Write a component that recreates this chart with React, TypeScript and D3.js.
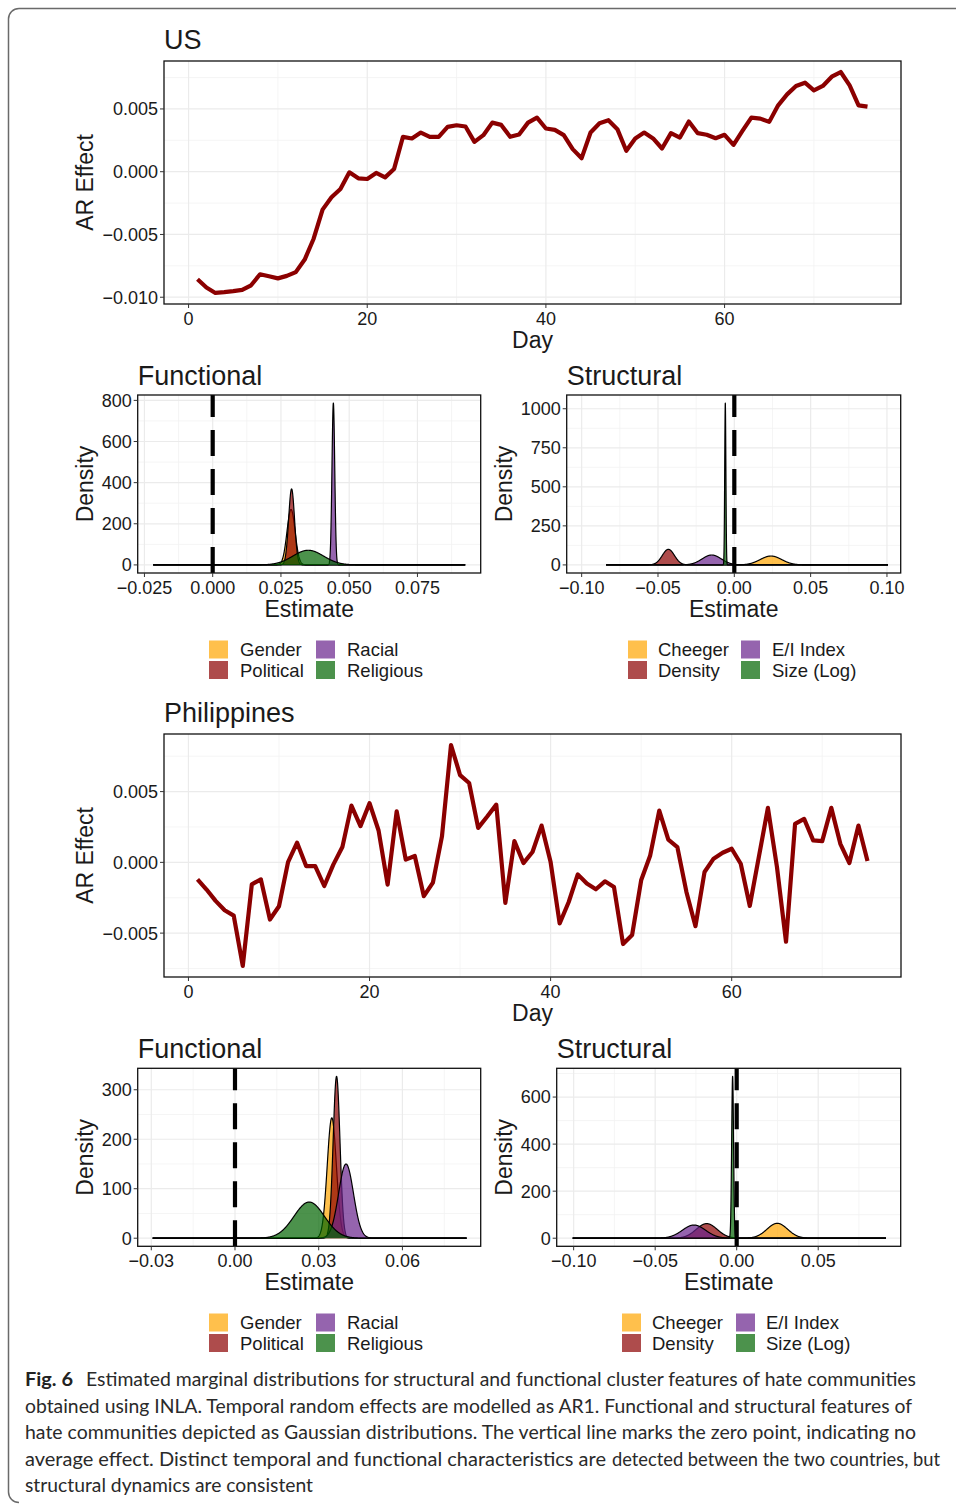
import React from 'react';
import * as d3 from 'd3';

const FONT = '"Liberation Sans", Arial, Helvetica, sans-serif';
const CAP_FONT = 'Lato, "Noto Sans", sans-serif';
const TXT = '#1a1a1a';
const GRID_MAJOR = '#EBEBEB';
const GRID_MINOR = '#F2F2F2';
const LINE_COLOR = '#8B0000';

// ---------- AR(1) temporal effects ----------
const usAR = [
  -0.00857, -0.00923, -0.00966, -0.0096, -0.00952, -0.00942, -0.00905, -0.00817, -0.00833, -0.0085,
  -0.0083, -0.008, -0.007, -0.00534, -0.00302, -0.00204, -0.00138, -0.00005, -0.00053, -0.00058,
  -0.0001, -0.00045, 0.00021, 0.00278, 0.00265, 0.00312, 0.00278, 0.00278, 0.00357, 0.0037,
  0.0036, 0.00238, 0.00291, 0.00391, 0.00373, 0.00278, 0.00296, 0.00391, 0.00431, 0.00344,
  0.00333, 0.00291, 0.0018, 0.00108, 0.00312, 0.00386, 0.0041, 0.00339, 0.00167, 0.00265,
  0.00312, 0.00265, 0.00185, 0.00307, 0.00272, 0.004, 0.00307, 0.00294, 0.00267, 0.00294,
  0.00214, 0.00325, 0.00431, 0.00423, 0.00397, 0.00529, 0.00616, 0.00683, 0.00709, 0.00648,
  0.00683, 0.00757, 0.00794, 0.00688, 0.00529, 0.00518,
];
const phAR = [
  -0.0012, -0.00192, -0.00272, -0.00338, -0.00376, -0.00732, -0.00155, -0.0012, -0.00404, -0.0031,
  0.00002, 0.00139, -0.00026, -0.00026, -0.00167, -0.00016, 0.00108, 0.00401, 0.00256, 0.00418,
  0.00225, -0.00157, 0.00361, 0.00019, 0.00045, -0.00239, -0.00143, 0.00183, 0.00829, 0.00617,
  0.00561, 0.00244, 0.00324, 0.00408, -0.00286, 0.0015, -0.00005, 0.00073, 0.0026, 0.00002,
  -0.00432, -0.0028, -0.00085, -0.0015, -0.0019, -0.00134, -0.00174, -0.00577, -0.00514, -0.00127,
  0.00049, 0.00366, 0.0016, 0.00108, -0.00209, -0.00451, -0.00068, 0.00026, 0.00068, 0.00096,
  -0.0001, -0.00308, 0.00038, 0.00385, -0.00033, -0.00561, 0.00272, 0.00307, 0.00155, 0.0015,
  0.00385, 0.00131, -0.00005, 0.0026, 0.00009,
];
const dayTicks = [0, 20, 40, 60];
const usARTicks = [-0.01, -0.005, 0, 0.005];
const phARTicks = [-0.005, 0, 0.005];

// ---------- Gaussian marginals ----------
const functionalLabels = ['Gender', 'Political', 'Racial', 'Religious'];
const structuralLabels = ['Cheeger', 'Density', 'E/I Index', 'Size (Log)'];
const fillColors = ['#FFA500', '#8B0000', '#68228B', '#006400'];

const usFunctionalMeans = [0.0287, 0.0289, 0.0442, 0.035];
const usFunctionalSds = [0.00148, 0.00108, 0.000507, 0.0056];
const usFunctionalRange = [-0.0218, 0.0925];
const usFunctionalLimits = [-0.02747, 0.09817];
const usFunctionalXTicks = [-0.025, 0, 0.025, 0.05, 0.075];
const usFunctionalYTicks = [0, 200, 400, 600, 800];

const usStructuralMeans = [0.024, -0.0432, -0.0148, -0.0059];
const usStructuralSds = [0.007, 0.004, 0.00628, 0.000385];
const usStructuralRange = [-0.084, 0.1007];
const usStructuralLimits = [-0.1098, 0.109];
const usStructuralXTicks = [-0.1, -0.05, 0, 0.05, 0.1];
const usStructuralYTicks = [0, 250, 500, 750, 1000];

const phFunctionalMeans = [0.0347, 0.0364, 0.0398, 0.0266];
const phFunctionalSds = [0.00164, 0.00122, 0.00266, 0.00546];
const phFunctionalRange = [-0.0295, 0.083];
const phFunctionalLimits = [-0.03487, 0.08806];
const phFunctionalXTicks = [-0.03, 0, 0.03, 0.06];
const phFunctionalYTicks = [0, 100, 200, 300];

const phStructuralMeans = [0.0249, -0.0184, -0.0262, -0.0025];
const phStructuralSds = [0.0063, 0.00643, 0.00712, 0.00058];
const phStructuralRange = [-0.1006, 0.0916];
const phStructuralLimits = [-0.1104, 0.1006];
const phStructuralXTicks = [-0.1, -0.05, 0, 0.05];
const phStructuralYTicks = [0, 200, 400, 600];

// caption segments: [text, startX, endX, baselineY]
const captionSegments: [string, number, number, number][] = [
  ['Estimated marginal distributions for structural and functional cluster features of hate communities', 86, 916, 1386],
  ['obtained using INLA. Temporal random effects are modelled as AR1. Functional and structural features of', 25, 912, 1412.5],
  ['hate communities depicted as Gaussian distributions. The vertical line marks the zero point, indicating no', 25, 916, 1439],
  ['average effect. Distinct temporal and functional characteristics are', 25, 606, 1465.5],
  ['detected between the two countries, but', 612, 940, 1465.5],
  ['structural dynamics are consistent', 25, 313, 1492],
];

type Box = { x: number; y: number; w: number; h: number };

function minorTicks(major: number[], domain: number[]) {
  const step = major[1] - major[0];
  const out: number[] = [];
  for (let i = -1; i < major.length; i++) {
    const v = (i < 0 ? major[0] - step : major[i]) + step / 2;
    if (v > Math.min(domain[0], domain[1]) && v < Math.max(domain[0], domain[1])) out.push(v);
  }
  return out;
}

function expand(ext: number[]) {
  const span = ext[1] - ext[0];
  return [ext[0] - 0.05 * span, ext[1] + 0.05 * span];
}

const fmtMinus = (f: (n: number) => string) => (n: number) => f(Math.abs(n) < 1e-12 ? 0 : n);

function Axes({ box, x, y, xTicks, yTicks, xDomain, yDomain, xFmt, yFmt, xTitle, yTitle, yTitleX, id, children }: any) {
  const bottom = box.y + box.h;
  return (
    <g>
      <defs>
        <clipPath id={id}>
          <rect x={box.x} y={box.y} width={box.w} height={box.h} />
        </clipPath>
      </defs>
      <rect x={box.x} y={box.y} width={box.w} height={box.h} fill="#fff" />
      <g clipPath={`url(#${id})`}>
        {minorTicks(xTicks, xDomain).map((t: number) => (
          <line key={'xm' + t} x1={x(t)} x2={x(t)} y1={box.y} y2={bottom} stroke={GRID_MINOR} strokeWidth={0.8} />
        ))}
        {minorTicks(yTicks, yDomain).map((t: number) => (
          <line key={'ym' + t} x1={box.x} x2={box.x + box.w} y1={y(t)} y2={y(t)} stroke={GRID_MINOR} strokeWidth={0.8} />
        ))}
        {xTicks.map((t: number) => (
          <line key={'xM' + t} x1={x(t)} x2={x(t)} y1={box.y} y2={bottom} stroke={GRID_MAJOR} strokeWidth={1.2} />
        ))}
        {yTicks.map((t: number) => (
          <line key={'yM' + t} x1={box.x} x2={box.x + box.w} y1={y(t)} y2={y(t)} stroke={GRID_MAJOR} strokeWidth={1.2} />
        ))}
        {children}
      </g>
      <rect x={box.x} y={box.y} width={box.w} height={box.h} fill="none" stroke="#111" strokeWidth={1.3} />
      {xTicks.map((t: number) => (
        <g key={'xt' + t}>
          <line x1={x(t)} x2={x(t)} y1={bottom} y2={bottom + 4} stroke="#333" strokeWidth={1} />
          <text x={x(t)} y={bottom + 20.5} textAnchor="middle" fontSize={18} fill={TXT} fontFamily={FONT}>
            {xFmt(t)}
          </text>
        </g>
      ))}
      {yTicks.map((t: number) => (
        <g key={'yt' + t}>
          <line x1={box.x - 4} x2={box.x} y1={y(t)} y2={y(t)} stroke="#333" strokeWidth={1} />
          <text x={box.x - 6} y={y(t) + 6.4} textAnchor="end" fontSize={18} fill={TXT} fontFamily={FONT}>
            {yFmt(t)}
          </text>
        </g>
      ))}
      <text x={box.x + box.w / 2} y={bottom + 43.5} textAnchor="middle" fontSize={23} fill={TXT} fontFamily={FONT}>
        {xTitle}
      </text>
      <text
        transform={`translate(${yTitleX},${box.y + box.h / 2}) rotate(-90)`}
        textAnchor="middle"
        fontSize={23}
        fill={TXT}
        fontFamily={FONT}
      >
        {yTitle}
      </text>
    </g>
  );
}

function LinePanel({ title, values, box, yTicks, id }: { title: string; values: number[]; box: Box; yTicks: number[]; id: string }) {
  const data = values.map((v, i) => [i + 1, v] as [number, number]);
  const xDomain = expand([1, values.length]);
  const yDomain = expand(d3.extent(values) as number[]);
  const x = d3.scaleLinear().domain(xDomain).range([box.x, box.x + box.w]);
  const y = d3.scaleLinear().domain(yDomain).range([box.y + box.h, box.y]);
  const line = d3.line<[number, number]>().x((d) => x(d[0])).y((d) => y(d[1]));
  return (
    <g>
      <text x={box.x} y={box.y - 12} fontSize={27} fill={TXT} fontFamily={FONT}>
        {title}
      </text>
      <Axes
        id={id}
        box={box}
        x={x}
        y={y}
        xTicks={dayTicks}
        yTicks={yTicks}
        xDomain={xDomain}
        yDomain={yDomain}
        xFmt={(t: number) => String(t)}
        yFmt={fmtMinus(d3.format('.3f'))}
        xTitle="Day"
        yTitle="AR Effect"
        yTitleX={93}
      >
        <path d={line(data) || ''} fill="none" stroke={LINE_COLOR} strokeWidth={4.2} strokeLinejoin="round" strokeLinecap="butt" />
      </Axes>
    </g>
  );
}

function gaussianPoints(mean: number, sd: number, range: number[]) {
  const pts: number[] = [];
  const n = 900;
  for (let i = 0; i <= n; i++) pts.push(range[0] + ((range[1] - range[0]) * i) / n);
  for (let k = -7; k <= 7; k += 0.04) {
    const v = mean + k * sd;
    if (v > range[0] && v < range[1]) pts.push(v);
  }
  pts.sort((a, b) => a - b);
  const c = 1 / (sd * Math.sqrt(2 * Math.PI));
  return pts.map((v) => [v, c * Math.exp(-0.5 * ((v - mean) / sd) ** 2)] as [number, number]);
}

function DensityPanel({
  title, box, labels, means, sds, range, limits, xTicks, yTicks, xFmt, yTitleX, id,
}: any) {
  const peak = d3.max(sds as number[], (s) => 1 / (s * Math.sqrt(2 * Math.PI))) as number;
  const yDomain = [-0.05 * peak, 1.05 * peak];
  const x = d3.scaleLinear().domain(limits).range([box.x, box.x + box.w]);
  const y = d3.scaleLinear().domain(yDomain).range([box.y + box.h, box.y]);
  const area = d3.area<[number, number]>().x((d) => x(d[0])).y0(y(0)).y1((d) => y(d[1]));
  const line = d3.line<[number, number]>().x((d) => x(d[0])).y((d) => y(d[1]));
  return (
    <g>
      <text x={box.x} y={box.y - 10} fontSize={27} fill={TXT} fontFamily={FONT}>
        {title}
      </text>
      <Axes
        id={id}
        box={box}
        x={x}
        y={y}
        xTicks={xTicks}
        yTicks={yTicks}
        xDomain={limits}
        yDomain={yDomain}
        xFmt={fmtMinus(d3.format(xFmt))}
        yFmt={(t: number) => String(t)}
        xTitle="Estimate"
        yTitle="Density"
        yTitleX={yTitleX}
      >
        {labels.map((lab: string, i: number) => {
          const pts = gaussianPoints(means[i], sds[i], range);
          return (
            <g key={lab}>
              <path d={area(pts) || ''} fill={fillColors[i]} fillOpacity={0.7} stroke="none" />
              <path d={line(pts) || ''} fill="none" stroke="#000" strokeWidth={1.2} strokeLinejoin="round" />
            </g>
          );
        })}
        <line
          x1={x(0)}
          x2={x(0)}
          y1={box.y + box.h}
          y2={box.y - 2}
          stroke="#000"
          strokeWidth={4.2}
          strokeDasharray="26 13"
        />
      </Axes>
    </g>
  );
}

function Legend({ labels, keyX, textX, y }: { labels: string[]; keyX: number[]; textX: number[]; y: number }) {
  return (
    <g>
      {labels.map((lab, i) => {
        const col = Math.floor(i / 2);
        const row = i % 2;
        const ky = y + row * 20.5;
        return (
          <g key={lab}>
            <rect x={keyX[col]} y={ky} width={19} height={18} fill={fillColors[i]} fillOpacity={0.7} />
            <text x={textX[col]} y={ky + 15.5} fontSize={18.5} fill={TXT} fontFamily={FONT}>
              {lab}
            </text>
          </g>
        );
      })}
    </g>
  );
}

export default function App() {
  return (
    <svg
      width={956}
      height={1504}
      viewBox="0 0 956 1504"
      style={{ position: 'absolute', left: 0, top: 0, background: '#fff' }}
    >
      <rect x={0} y={0} width={956} height={1504} fill="#fff" />
      <path
        d="M 960 8.5 H 19 A 10.5 10.5 0 0 0 8.5 19 V 1492 A 10.5 10.5 0 0 0 19 1502.5"
        fill="none"
        stroke="#6a6a6a"
        strokeWidth={1.5}
      />

      <LinePanel id="cUS" title="US" values={usAR} box={{ x: 164, y: 61, w: 737, h: 243 }} yTicks={usARTicks} />

      <DensityPanel
        id="cUSF"
        title="Functional"
        box={{ x: 137.7, y: 395, w: 343, h: 178 }}
        labels={functionalLabels}
        means={usFunctionalMeans}
        sds={usFunctionalSds}
        range={usFunctionalRange}
        limits={usFunctionalLimits}
        xTicks={usFunctionalXTicks}
        yTicks={usFunctionalYTicks}
        xFmt=".3f"
        yTitleX={93}
      />
      <DensityPanel
        id="cUSS"
        title="Structural"
        box={{ x: 566.7, y: 395, w: 334, h: 178 }}
        labels={structuralLabels}
        means={usStructuralMeans}
        sds={usStructuralSds}
        range={usStructuralRange}
        limits={usStructuralLimits}
        xTicks={usStructuralXTicks}
        yTicks={usStructuralYTicks}
        xFmt=".2f"
        yTitleX={512}
      />
      <Legend labels={functionalLabels} keyX={[209, 316]} textX={[240, 347]} y={640.5} />
      <Legend labels={structuralLabels} keyX={[628, 741]} textX={[658, 772]} y={640.5} />

      <LinePanel id="cPH" title="Philippines" values={phAR} box={{ x: 164, y: 734, w: 737, h: 243 }} yTicks={phARTicks} />

      <DensityPanel
        id="cPHF"
        title="Functional"
        box={{ x: 137.7, y: 1068.3, w: 343, h: 178 }}
        labels={functionalLabels}
        means={phFunctionalMeans}
        sds={phFunctionalSds}
        range={phFunctionalRange}
        limits={phFunctionalLimits}
        xTicks={phFunctionalXTicks}
        yTicks={phFunctionalYTicks}
        xFmt=".2f"
        yTitleX={93}
      />
      <DensityPanel
        id="cPHS"
        title="Structural"
        box={{ x: 556.7, y: 1068.3, w: 344, h: 178 }}
        labels={structuralLabels}
        means={phStructuralMeans}
        sds={phStructuralSds}
        range={phStructuralRange}
        limits={phStructuralLimits}
        xTicks={phStructuralXTicks}
        yTicks={phStructuralYTicks}
        xFmt=".2f"
        yTitleX={512}
      />
      <Legend labels={functionalLabels} keyX={[209, 316]} textX={[240, 347]} y={1313.5} />
      <Legend labels={structuralLabels} keyX={[622, 736]} textX={[652, 766]} y={1313.5} />

      <text x={25} y={1386} fontSize={19} fontWeight="bold" fill="#222" fontFamily={CAP_FONT} textLength={48} lengthAdjust="spacingAndGlyphs">
        Fig. 6
      </text>
      {captionSegments.map(([txt, x0, x1, yb], i) => (
        <text
          key={i}
          x={x0}
          y={yb}
          fontSize={18.5}
          fill="#2a2a2a"
          fontFamily={CAP_FONT}
          textLength={x1 - x0}
          lengthAdjust="spacingAndGlyphs"
        >
          {txt}
        </text>
      ))}
    </svg>
  );
}
